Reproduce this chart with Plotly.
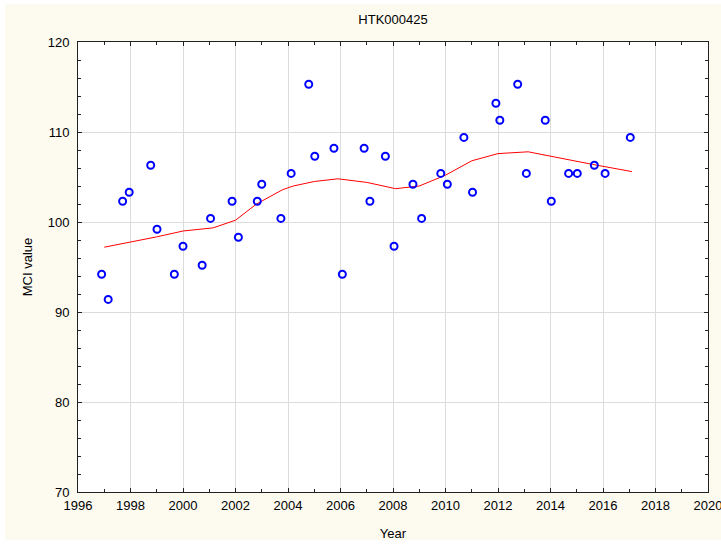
import plotly.graph_objects as go

# Observed data (decimal year, MCI value)
years = [1996.90, 1997.15, 1997.70, 1997.95, 1998.77, 1999.01, 1999.67, 2000.00,
         2000.73, 2001.05, 2001.87, 2002.11, 2002.83, 2003.00, 2003.73, 2004.12,
         2004.79, 2005.02, 2005.75, 2006.07, 2006.90, 2007.12, 2007.71, 2008.04,
         2008.76, 2009.09, 2009.82, 2010.07, 2010.70, 2011.03, 2011.92, 2012.07,
         2012.75, 2013.08, 2013.80, 2014.03, 2014.69, 2015.02, 2015.67, 2016.08,
         2017.04]
mci = [94.2, 91.4, 102.3, 103.3, 106.3, 99.2, 94.2, 97.3,
       95.2, 100.4, 102.3, 98.3, 102.3, 104.2, 100.4, 105.4,
       115.3, 107.3, 108.2, 94.2, 108.2, 102.3, 107.3, 97.3,
       104.2, 100.4, 105.4, 104.2, 109.4, 103.3, 113.2, 111.3,
       115.3, 105.4, 111.3, 102.3, 105.4, 105.4, 106.3, 105.4,
       109.4]

# Smoothed trend line
trend_x = [1997.0, 1998.0, 1999.0, 2000.0, 2001.15, 2002.0, 2002.8, 2003.8,
           2004.2, 2005.0, 2005.9, 2007.0, 2008.1, 2009.0, 2010.0, 2011.0,
           2012.0, 2013.15, 2014.0, 2015.6, 2017.1]
trend_y = [97.2, 97.75, 98.35, 99.0, 99.35, 100.2, 102.0, 103.6,
           104.0, 104.5, 104.8, 104.4, 103.7, 104.0, 105.2, 106.8,
           107.6, 107.8, 107.3, 106.4, 105.6]

title_text = "HTK000425"
x_title = "Year"
y_title = "MCI value"

FONT = "Liberation Sans, Arial, sans-serif"
CREAM = "#FDFAF0"
INK = "#000000"

fig = go.Figure()
fig.add_trace(go.Scatter(x=trend_x, y=trend_y, mode="lines",
                         line=dict(color="#FF0000", width=1), hoverinfo="skip",
                         showlegend=False))
fig.add_trace(go.Scatter(x=years, y=mci, mode="markers",
                         marker=dict(symbol="circle-open", size=7, color="#0000FF",
                                     line=dict(width=2, color="#0000FF")),
                         showlegend=False))

axis_common = dict(
    showline=True, linecolor="#222222", linewidth=1, mirror="allticks",
    ticks="inside", ticklen=4, tickcolor="#222222", tickwidth=1,
    showgrid=True, gridcolor="#DCDCDC", gridwidth=1, zeroline=False,
    tickfont=dict(family=FONT, size=13, color=INK),
    automargin=False, ticklabeloverflow="allow",
)

fig.update_xaxes(range=[1996, 2020], dtick=2, tick0=1996, ticklabelstandoff=1,
                 minor=dict(dtick=1, ticks="inside", ticklen=3, tickcolor="#222222",
                            showgrid=False),
                 title=dict(text=x_title, font=dict(family=FONT, size=13, color=INK),
                            standoff=17),
                 **axis_common)
fig.update_yaxes(range=[70, 120], dtick=10, tick0=70, ticklabelstandoff=5,
                 minor=dict(dtick=2, ticks="inside", ticklen=3, tickcolor="#222222",
                            showgrid=False),
                 title=dict(text=y_title, font=dict(family=FONT, size=13, color=INK),
                            standoff=12),
                 **axis_common)

fig.update_layout(
    width=721, height=544,
    margin=dict(l=78, r=13, t=42, b=52, autoexpand=False),
    paper_bgcolor="white", plot_bgcolor="white",
    title=dict(text=title_text, x=0.5, xref="paper", y=1 - 19 / 544, yanchor="middle",
               font=dict(family=FONT, size=13, color=INK)),
    shapes=[
        dict(type="rect", xref="paper", yref="paper", layer="below",
             x0=(5 - 78) / 630, x1=(721 - 78) / 630,
             y0=-(540 - 492) / 450, y1=1 + (42 - 4) / 450,
             fillcolor=CREAM, line=dict(width=0)),
        dict(type="rect", xref="paper", yref="paper", layer="below",
             x0=0, x1=1, y0=0, y1=1, fillcolor="white", line=dict(width=0)),
    ],
)

fig.write_html("out.html", config={"displayModeBar": False},
               post_script="document.body.style.margin='0';document.body.style.overflow='hidden';")
